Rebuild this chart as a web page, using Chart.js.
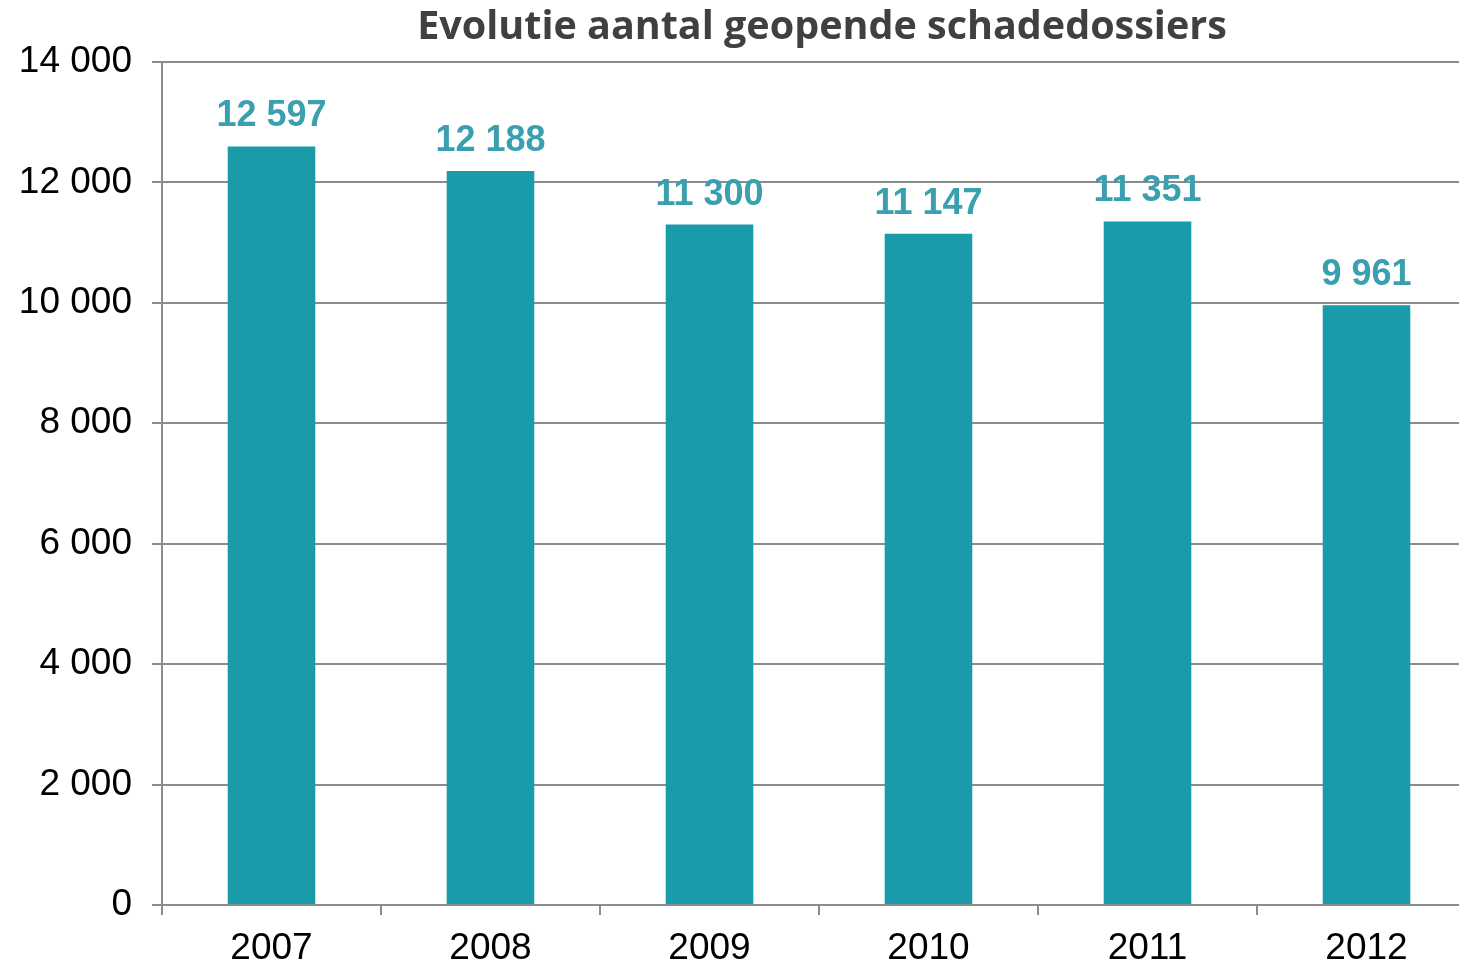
<!DOCTYPE html>
<html>
<head>
<meta charset="utf-8">
<script src="https://cdn.jsdelivr.net/npm/chart.js@4/dist/chart.umd.min.js"></script>
<style>
  html, body { margin: 0; padding: 0; background: #fff; overflow: hidden; }
  #wrap { position: relative; width: 1476px; height: 967px; }
</style>
</head>
<body>
<div id="wrap"><canvas id="myChart"></canvas></div>
<script>
const years = ["2007", "2008", "2009", "2010", "2011", "2012"];
const dossiers = [12597, 12188, 11300, 11147, 11351, 9961];
const chartTitle = "Evolutie aantal geopende schadedossiers";

// thousands with a space, like "12 597"
function fmt(n) {
  return String(n).replace(/\B(?=(\d{3})+(?!\d))/g, " ");
}

// value labels above the bars
const barLabels = {
  id: "barLabels",
  afterDatasetsDraw(chart) {
    const ctx = chart.ctx;
    const meta = chart.getDatasetMeta(0);
    ctx.save();
    ctx.font = "bold 36px 'Liberation Sans', Arial, sans-serif";
    ctx.fillStyle = "#3a9fae";
    ctx.textAlign = "center";
    ctx.textBaseline = "bottom";
    meta.data.forEach((bar, i) => {
      ctx.fillText(fmt(dossiers[i]), bar.x, bar.y - 12);
    });
    ctx.restore();
  }
};

// title drawn by hand so the plot top stays put
const titlePlugin = {
  id: "titlePlugin",
  afterDraw(chart) {
    const ctx = chart.ctx;
    ctx.save();
    ctx.font = "bold 39.5px 'Open Sans', sans-serif";
    ctx.fillStyle = "#404040";
    ctx.textAlign = "center";
    ctx.textBaseline = "middle";
    ctx.fillText(chartTitle, 822, 28);
    ctx.restore();
  }
};

new Chart(document.getElementById("myChart"), {
  type: "bar",
  data: {
    labels: years,
    datasets: [{
      data: dossiers,
      backgroundColor: "#1a9ba9",
      barPercentage: 0.4,
      categoryPercentage: 1
    }]
  },
  options: {
    responsive: true,
    maintainAspectRatio: false,
    animation: false,
    layout: { padding: { top: 62, right: 0, left: 0, bottom: 0 } },
    plugins: {
      legend: { display: false },
      tooltip: { enabled: false }
    },
    scales: {
      x: {
        offset: true,
        grid: {
          offset: true,
          drawOnChartArea: false,
          color: "#8c8c8c",
          lineWidth: 2,
          tickLength: 10
        },
        border: { color: "#8c8c8c", width: 2 },
        ticks: {
          color: "#000",
          font: { family: "'Liberation Sans', Arial, sans-serif", size: 37 },
          padding: 12
        },
        afterFit(scale) { scale.height = 62; }
      },
      y: {
        min: 0,
        max: 14000,
        ticks: {
          stepSize: 2000,
          color: "#000",
          font: { family: "'Liberation Sans', Arial, sans-serif", size: 37 },
          padding: 20,
          callback: (v) => fmt(v)
        },
        grid: {
          color: "#8c8c8c",
          lineWidth: 2,
          tickLength: 10
        },
        border: { color: "#8c8c8c", width: 2 },
        afterFit(scale) { scale.width = 162; }
      }
    }
  },
  plugins: [barLabels, titlePlugin]
});
</script>
</body>
</html>
